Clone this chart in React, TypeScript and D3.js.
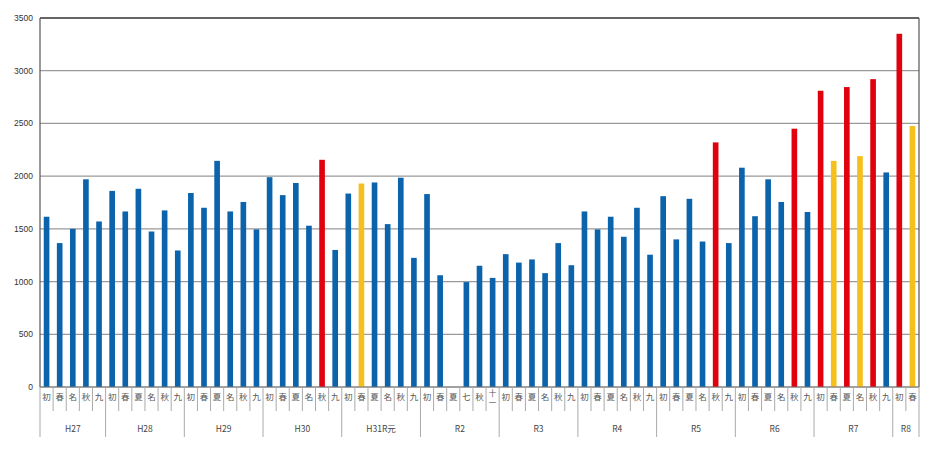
import React from "react";
import * as d3 from "d3";

const groupLabels = ["H27", "H28", "H29", "H30", "H31R元", "R2", "R3", "R4", "R5", "R6", "R7", "R8"];

const groupBasho: string[][] = [
  ["初", "春", "名", "秋", "九"],
  ["初", "春", "夏", "名", "秋", "九"],
  ["初", "春", "夏", "名", "秋", "九"],
  ["初", "春", "夏", "名", "秋", "九"],
  ["初", "春", "夏", "名", "秋", "九"],
  ["初", "春", "夏", "七", "秋", "十一"],
  ["初", "春", "夏", "名", "秋", "九"],
  ["初", "春", "夏", "名", "秋", "九"],
  ["初", "春", "夏", "名", "秋", "九"],
  ["初", "春", "夏", "名", "秋", "九"],
  ["初", "春", "夏", "名", "秋", "九"],
  ["初", "春"],
];

const values: (number | null)[] = [
  1615, 1365, 1500, 1970, 1570,
  1860, 1665, 1880, 1475, 1675, 1295,
  1840, 1700, 2145, 1665, 1755, 1495,
  1990, 1820, 1935, 1530, 2155, 1300,
  1835, 1930, 1940, 1545, 1985, 1225,
  1830, 1060, null, 995, 1150, 1035,
  1260, 1180, 1210, 1080, 1365, 1155,
  1665, 1495, 1615, 1425, 1700, 1255,
  1810, 1400, 1785, 1380, 2320, 1365,
  2080, 1620, 1970, 1755, 2450, 1660,
  2810, 2145, 2845, 2190, 2920, 2035,
  3350, 2475,
];

// b = normal, r = red highlight, y = yellow highlight
const highlight: string[] = [
  "b", "b", "b", "b", "b",
  "b", "b", "b", "b", "b", "b",
  "b", "b", "b", "b", "b", "b",
  "b", "b", "b", "b", "r", "b",
  "b", "y", "b", "b", "b", "b",
  "b", "b", "b", "b", "b", "b",
  "b", "b", "b", "b", "b", "b",
  "b", "b", "b", "b", "b", "b",
  "b", "b", "b", "b", "r", "b",
  "b", "b", "b", "b", "r", "b",
  "r", "y", "r", "y", "r", "b",
  "r", "y",
];

const yTicks = [0, 500, 1000, 1500, 2000, 2500, 3000, 3500];

const colorMap: Record<string, string> = { b: "#0B63AC", r: "#E0000E", y: "#F5BF1C" };

export default function App() {
  const W = 950, H = 453;
  const left = 40, right = 919, top = 18, bottom = 387;
  const n = values.length;
  const idx = d3.range(n);
  const x = d3.scaleBand<number>().domain(idx).range([left, right]).paddingInner(0.57).paddingOuter(0.285);
  const y = d3.scaleLinear().domain([0, 3500]).range([bottom, top]);
  const step = x.step();

  const cats: { label: string; g: number }[] = [];
  groupBasho.forEach((arr, g) => arr.forEach((label) => cats.push({ label, g })));
  const groupStart: number[] = [];
  let acc = 0;
  groupBasho.forEach((arr) => { groupStart.push(acc); acc += arr.length; });

  const boundaryX = (i: number) => x(i)! - (step - x.bandwidth()) / 2;
  const font = "'Noto Sans CJK JP', 'DejaVu Sans', sans-serif";

  return (
    <svg width={W} height={H} style={{ position: "absolute", left: 0, top: 0, background: "#fff" }}>
      {yTicks.map((t) => (
        <line key={"g" + t} x1={left} x2={right} y1={y(t)} y2={y(t)}
          stroke={t === 3500 ? "#333" : "#9a9a9a"} strokeWidth={t === 3500 ? 1.3 : 1.2} />
      ))}
      {yTicks.map((t) => (
        <text key={"yt" + t} x={33} y={y(t) + 3} textAnchor="end" fontSize={8.5}
          fontFamily="'Liberation Sans', Arial, sans-serif" fill="#333">{t}</text>
      ))}
      {idx.map((i) => values[i] == null ? null : (
        <rect key={"b" + i} x={x(i)} y={y(values[i] as number)} width={x.bandwidth()}
          height={bottom - y(values[i] as number)} fill={colorMap[highlight[i]]} />
      ))}
      <line x1={left} x2={left} y1={top} y2={bottom} stroke="#555" strokeWidth={1.2} />
      <line x1={right} x2={right} y1={top} y2={bottom} stroke="#555" strokeWidth={1.2} />
      <line x1={left} x2={right} y1={bottom} y2={bottom} stroke="#777" strokeWidth={1} />
      {d3.range(n + 1).map((i) => {
        const isGroup = i === n || groupStart.includes(i);
        const bx = i === n ? right : boundaryX(i);
        return (
          <line key={"t" + i} x1={bx} x2={bx} y1={bottom} y2={isGroup ? 437 : 411}
            stroke="#aaa" strokeWidth={1} />
        );
      })}
      {cats.map((c, i) => {
        const cx = x(i)! + x.bandwidth() / 2;
        if (c.label.length > 1) {
          return (
            <g key={"c" + i}>
              {c.label.split("").map((ch, k) => (
                <text key={k} x={cx} y={396 + k * 10} textAnchor="middle" fontSize={7.5}
                  fontFamily={font} fill="#555">{ch}</text>
              ))}
            </g>
          );
        }
        return (
          <text key={"c" + i} x={cx} y={400} textAnchor="middle" fontSize={8.5}
            fontFamily={font} fill="#555">{c.label}</text>
        );
      })}
      {groupLabels.map((gl, g) => {
        const s = groupStart[g];
        const e = s + groupBasho[g].length;
        const x0 = boundaryX(s);
        const x1 = e === n ? right : boundaryX(e);
        return (
          <text key={"gl" + g} x={(x0 + x1) / 2} y={432} textAnchor="middle" fontSize={8.5}
            fontFamily={font} fill="#444">{gl}</text>
        );
      })}
    </svg>
  );
}
